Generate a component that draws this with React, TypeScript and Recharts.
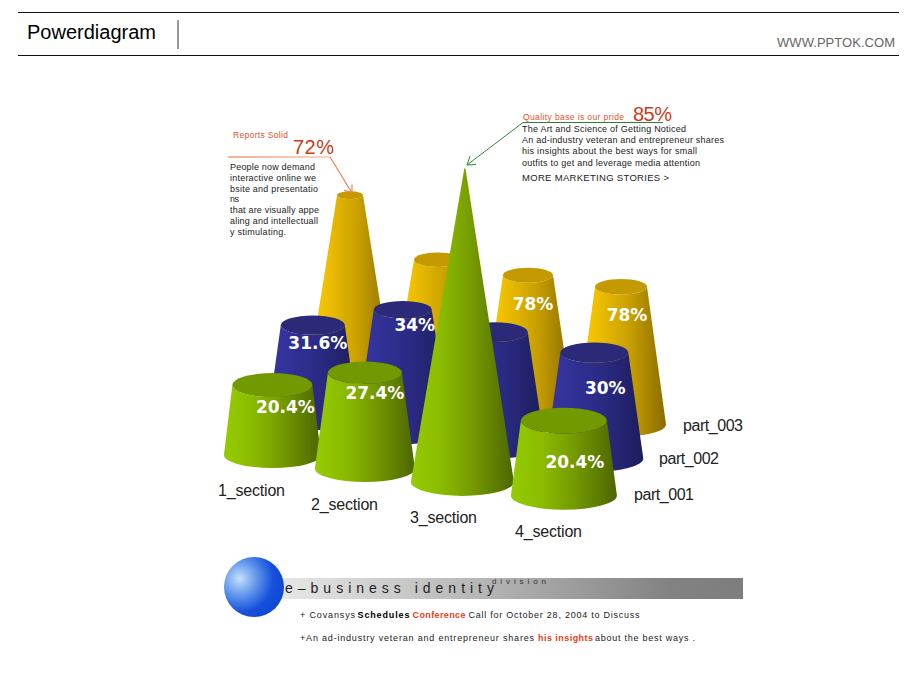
import React from 'react';
import { ComposedChart, Bar, XAxis, YAxis } from 'recharts';

const categories = ['1_section', '2_section', '3_section', '4_section'];
const seriesNames = ['part_001', 'part_002', 'part_003'];

// cone heights (the drawing is not to scale with its % labels)
const part001Values = [70, 96, 314, 75];
const part002Values = [93, 122, 113, 106];
const part003Values = [189, 138, 136, 138];

const part001Labels = ['20.4%', '27.4%', '', '20.4%'];
const part002Labels = ['31.6%', '34%', '', '30%'];
const part003Labels = ['', '', '78%', '78%'];

const chartData = categories.map((category, i) => ({
  category,
  part_001: part001Values[i],
  part_002: part002Values[i],
  part_003: part003Values[i],
}));

const W = 920;
const H = 690;
const FONT = '"Liberation Sans", Arial, sans-serif';

const CONE_STYLE: Record<string, any> = {
  part_001: {
    fill: 'url(#coneGreen)', top: '#739900', labels: part001Labels, baseY: 455,
    baseRx: [48.5, 50, 51.5, 53], topRx: [40, 37, 0.6, 43], nudge: [-0.5, -5, -4.5, 0], topDx: [0, 0, 2.5, 0],
    labelDx: [13, 10, 0, 11], labelDy: [28, 26, 0, 47],
  },
  part_002: {
    fill: 'url(#coneBlue)', top: '#2a2a78', labels: part002Labels, baseY: 418,
    baseRx: [45, 47, 50, 49], topRx: [32, 29, 33, 34], nudge: [0, -4, -6, -0.5], topDx: [0, 0, 0, 0],
    labelDx: [5, 12, 0, 11], labelDy: [24, 21, 0, 41],
  },
  part_003: {
    fill: 'url(#coneAmber)', top: '#c49a00', labels: part003Labels, baseY: 384,
    baseRx: [43, 47, 45, 45], topRx: [13, 24, 25, 26], nudge: [0, -2, -2, 1], topDx: [0, 0, 0, 0],
    labelDx: [0, 0, 5, 6], labelDy: [0, 0, 35, 34],
  },
};

const STEP_Y = 13.5;
const SQUASH = 0.27;
const TOP_SQUASH = 0.3;

const Cone = ({ x, width, height, index, seriesKey }: any) => {
  const s = CONE_STYLE[seriesKey];
  const cx = x + width / 2 + s.nudge[index];
  const tx = cx + s.topDx[index];
  const baseY = s.baseY + index * STEP_Y;
  const topY = baseY - height;
  const rb = s.baseRx[index];
  const rt = s.topRx[index];
  const d = `M${tx - rt},${topY} L${cx - rb},${baseY} A${rb},${rb * SQUASH} 0 0 0 ${cx + rb},${baseY} L${tx + rt},${topY} A${rt},${rt * TOP_SQUASH} 0 0 1 ${tx - rt},${topY} Z`;
  const label = s.labels[index];
  return (
    <g>
      <path d={d} fill={s.fill} />
      <ellipse cx={tx} cy={topY} rx={rt} ry={rt * TOP_SQUASH} fill={s.top} />
      {label && (
        <text x={cx + s.labelDx[index]} y={topY + s.labelDy[index]} textAnchor="middle" fill="#fff"
          fontFamily='"DejaVu Sans", sans-serif' fontWeight="bold" fontSize={17}>{label}</text>
      )}
    </g>
  );
};

const SECTION_DX = [-55, -59, -57, -49];

const SectionTick = ({ x, index, payload }: any) => (
  <text x={x + SECTION_DX[index]} y={496 + index * 13.7} fill="#222" fontFamily={FONT} fontSize={16}
    textLength={67} lengthAdjust="spacing">{payload.value}</text>
);

const gradient = (id: string, stops: [number, string][]) => (
  <linearGradient id={id} x1="0" y1="0" x2="1" y2="0">
    {stops.map(([o, c]) => <stop key={o} offset={o} stopColor={c} />)}
  </linearGradient>
);

// small fitted text line
const T = ({ x, y, w, size = 9, fill = '#222', weight, children }: any) => (
  <text x={x} y={y} textLength={w} lengthAdjust="spacing" fontFamily={FONT} fontSize={size} fontWeight={weight} fill={fill}>{children}</text>
);

const leftLines: [string, number, number][] = [
  ['People now demand', 170, 85],
  ['interactive online we', 181, 86],
  ['bsite and presentatio', 192, 88],
  ['ns', 202, 9],
  ['that are visually appe', 213, 89],
  ['aling and intellectuall', 224, 88],
  ['y stimulating.', 235, 56],
];

const rightLines: [string, number, number][] = [
  ['The Art and Science of Getting Noticed', 132, 164],
  ['An ad-industry veteran and entrepreneur shares', 143, 202],
  ['his insights about the best ways for small', 154, 175],
  ['outfits to get and leverage media attention', 166, 178],
];

const PART_POS = [[634, 500], [659, 464], [683, 431]];

const Overlay = () => (
  <svg width={W} height={H} style={{ position: 'absolute', left: 0, top: 0 }}>
    <defs>
      <linearGradient id="bannerFill" x1="0" y1="0" x2="1" y2="0">
        <stop offset="0" stopColor="#ececec" />
        <stop offset="0.5" stopColor="#b0b0b0" />
        <stop offset="0.85" stopColor="#828282" />
        <stop offset="1" stopColor="#7e7e7e" />
      </linearGradient>
      <radialGradient id="ball" cx="0.26" cy="0.36" r="0.78">
        <stop offset="0" stopColor="#c4e0fb" />
        <stop offset="0.4" stopColor="#5a90ea" />
        <stop offset="0.72" stopColor="#1650dc" />
        <stop offset="1" stopColor="#0f46d0" />
      </radialGradient>
      <linearGradient id="orangeRule" x1="0" y1="0" x2="1" y2="0">
        <stop offset="0" stopColor="#e0672e" />
        <stop offset="1" stopColor="#f8aa80" />
      </linearGradient>
    </defs>

    {/* header */}
    <line x1={18} x2={899} y1={12.5} y2={12.5} stroke="#111" strokeWidth={1} />
    <line x1={18} x2={899} y1={55.5} y2={55.5} stroke="#111" strokeWidth={1} />
    <line x1={178} x2={178} y1={20} y2={49} stroke="#333" strokeWidth={1} />
    <T x={27} y={39} w={129} size={20} fill="#000">Powerdiagram</T>
    <T x={777} y={47} w={118} size={13} fill="#666">WWW.PPTOK.COM</T>

    {/* left callout */}
    <T x={233} y={138} w={55} size={8.5} fill="#d9552b">Reports Solid</T>
    <T x={293} y={154} w={41} size={20} fill="#c93c18">72%</T>
    <rect x={228} y={156.5} width={102} height={1} fill="url(#orangeRule)" />
    <polyline points="330,157 352,193" fill="none" stroke="#f08050" strokeWidth={1.2} />
    <polyline points="344,190 352,193 352,184.5" fill="none" stroke="#f08050" strokeWidth={1.2} />
    {leftLines.map(([t, y, w]) => <T key={t} x={230} y={y} w={w}>{t}</T>)}

    {/* right callout */}
    <T x={523} y={120} w={101} size={8.5} fill="#d9552b">Quality base is our pride</T>
    <T x={633} y={120.5} w={39} size={20} fill="#c93c18">85%</T>
    <line x1={523} x2={663} y1={122.5} y2={122.5} stroke="#2e7d32" strokeWidth={1} />
    <polyline points="523,122.5 467,165" fill="none" stroke="#2e8b32" strokeWidth={1} />
    <polyline points="470,156 467,165 476,164.5" fill="none" stroke="#2e8b32" strokeWidth={1} />
    {rightLines.map(([t, y, w]) => <T key={t} x={522} y={y} w={w}>{t}</T>)}
    <T x={522} y={181} w={147} size={9.5}>{'MORE MARKETING STORIES >'}</T>

    {/* series names */}
    {seriesNames.map((name, i) => (
      <T key={name} x={PART_POS[i][0]} y={PART_POS[i][1]} w={60} size={16}>{name}</T>
    ))}

    {/* bottom banner */}
    <rect x={262} y={578} width={481} height={21} fill="url(#bannerFill)" />
    <circle cx={254} cy={587} r={30} fill="url(#ball)" />
    <T x={285} y={593} w={209} size={14} fill="#222">e–business identity</T>
    <T x={492} y={584} w={54} size={8} fill="#333">division</T>
    <T x={300} y={618} w={55}>+ Covansys</T>
    <T x={357.5} y={618} w={52} weight="bold" fill="#000">Schedules</T>
    <T x={412.5} y={618} w={53} weight="bold" fill="#e8401a">Conference</T>
    <T x={468.5} y={618} w={171}>Call for October 28, 2004 to Discuss</T>
    <T x={300} y={641} w={234}>+An ad-industry veteran and entrepreneur shares</T>
    <T x={538} y={641} w={55} weight="bold" fill="#e8401a">his insights</T>
    <T x={595} y={641} w={100}>about the best ways .</T>
  </svg>
);

const App = () => (
  <div style={{ position: 'absolute', left: 0, top: 0, width: W, height: H, background: '#fff', overflow: 'hidden' }}>
    <ComposedChart width={W} height={H} data={chartData} margin={{ top: 0, right: 0, bottom: 0, left: 0 }} barCategoryGap="20%" style={{ position: 'absolute', left: 0, top: 0 }}>
      <defs>
        {gradient('coneGreen', [[0, '#94cc00'], [0.28, '#8cbc00'], [0.6, '#749a00'], [1, '#4c6600']])}
        {gradient('coneBlue', [[0, '#36369c'], [0.2, '#32329a'], [0.6, '#2a2a82'], [1, '#1c1c5c']])}
        {gradient('coneAmber', [[0, '#ffcc00'], [0.2, '#f2c200'], [0.6, '#c89f00'], [1, '#8a6c00']])}
      </defs>
      <XAxis xAxisId="part_001" dataKey="category" height={1} axisLine={false} tickLine={false} interval={0}
        padding={{ left: 224.5, right: 307.5 }} tick={(p: any) => <SectionTick {...p} />} />
      <XAxis xAxisId="part_002" dataKey="category" hide padding={{ left: 266, right: 278 }} />
      <XAxis xAxisId="part_003" dataKey="category" hide padding={{ left: 305, right: 255 }} />
      <YAxis hide domain={[0, H]} />
      <Bar xAxisId="part_003" dataKey="part_003" isAnimationActive={false} shape={(p: any) => <Cone {...p} seriesKey="part_003" />} />
      <Bar xAxisId="part_002" dataKey="part_002" isAnimationActive={false} shape={(p: any) => <Cone {...p} seriesKey="part_002" />} />
      <Bar xAxisId="part_001" dataKey="part_001" isAnimationActive={false} shape={(p: any) => <Cone {...p} seriesKey="part_001" />} />
    </ComposedChart>
    <Overlay />
  </div>
);

export default App;
